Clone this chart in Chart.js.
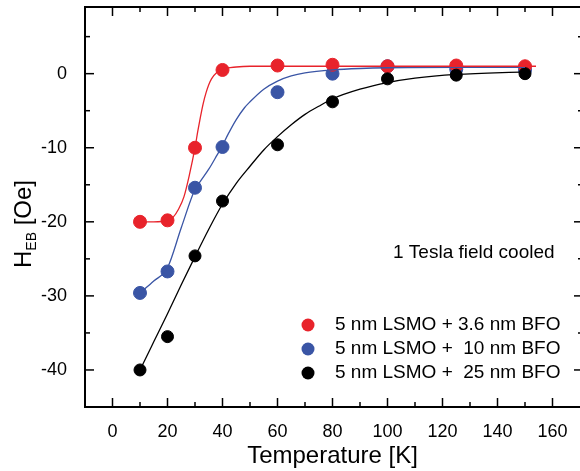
<!DOCTYPE html>
<html>
<head>
<meta charset="utf-8">
<script src="https://cdn.jsdelivr.net/npm/chart.js@4/dist/chart.umd.min.js"></script>
<style>
  html, body { margin: 0; padding: 0; background: #fff; }
  #wrap { width: 580px; height: 471px; }
</style>
</head>
<body>
<div id="wrap"><canvas id="chart" width="580" height="471"></canvas></div>
<script>
// mesures (points)
const temps = [10, 20, 30, 40, 60, 80, 100, 125, 150];
const redVals = [-20.0, -19.8, -10.0, 0.5, 1.1, 1.2, 1.0, 1.1, 1.0];
const blueVals = [-29.6, -26.7, -15.4, -9.9, -2.5, 0.0, 1.0, 0.6, 0.5];
const blackVals = [-40.0, -35.5, -24.6, -17.2, -9.6, -3.8, -0.7, -0.2, 0.0];

// courbes d'ajustement
const fitRedT = [10, 15, 20, 22, 24, 26, 28, 30, 31, 32, 33, 34, 35, 36, 38, 40, 45, 50, 60, 80, 100, 125, 150, 154];
const fitRedVals = [-20.0, -20.0, -19.8, -19.4, -18.3, -16.6, -13.6, -10.0, -7.8, -5.8, -4.0, -2.6, -1.5, -0.7, 0.2, 0.6, 0.9, 1.0, 1.0, 1.0, 1.0, 1.0, 1.0, 1.0];
const fitBlueT = [10, 15, 20, 25, 30, 32, 35, 38, 40, 42, 45, 48, 50, 55, 60, 65, 70, 80, 90, 100, 125, 150];
const fitBlueVals = [-29.6, -28.0, -26.2, -20.8, -15.6, -14.5, -12.9, -11.0, -9.7, -8.2, -6.2, -4.6, -3.8, -2.1, -1.0, -0.3, 0.1, 0.5, 0.7, 0.8, 0.85, 0.85];
const fitBlackT = [10, 15, 20, 25, 30, 35, 40, 45, 50, 55, 60, 65, 70, 75, 80, 90, 100, 110, 125, 150];
const fitBlackVals = [-40.0, -36.2, -32.4, -28.5, -24.7, -21.0, -17.6, -14.8, -12.5, -10.3, -8.5, -6.9, -5.5, -4.4, -3.4, -2.1, -1.2, -0.6, -0.1, 0.25];

// graduations
const xTicks = [0, 20, 40, 60, 80, 100, 120, 140, 160];
const xMinor = [10, 30, 50, 70, 90, 110, 130, 150];
const yTicks = [-40, -30, -20, -10, 0];
const yMinor = [-35, -25, -15, -5, 5];

const labels = ['5 nm LSMO + 3.6 nm BFO', '5 nm LSMO +  10 nm BFO', '5 nm LSMO +  25 nm BFO'];

const RED = '#e8232b';
const BLUE = '#3a55a5';
const BLACK = '#000000';
const FONT = "'Liberation Sans', Arial, sans-serif";

const pts = (xs, ys) => xs.map((x, i) => ({ x: x, y: ys[i] }));

Chart.defaults.font.family = FONT;
Chart.defaults.color = '#000';

// cadre (bord droit hors du canvas comme sur l'original), graduations internes, titre Y, légende
const framePlugin = {
  id: 'frame',
  afterDraw(chart) {
    const ctx = chart.ctx;
    const a = chart.chartArea;
    const right = a.right + 3;
    const sx = chart.scales.x, sy = chart.scales.y;
    ctx.save();
    ctx.strokeStyle = '#000';
    ctx.lineWidth = 2;
    ctx.strokeRect(a.left, a.top, right - a.left, a.bottom - a.top);

    ctx.lineWidth = 1.5;
    const tick = (x1, y1, x2, y2) => { ctx.beginPath(); ctx.moveTo(x1, y1); ctx.lineTo(x2, y2); ctx.stroke(); };
    xTicks.forEach(v => { const p = sx.getPixelForValue(v); tick(p, a.bottom, p, a.bottom - 9); tick(p, a.top, p, a.top + 9); });
    xMinor.forEach(v => { const p = sx.getPixelForValue(v); tick(p, a.bottom, p, a.bottom - 5); tick(p, a.top, p, a.top + 5); });
    yTicks.forEach(v => { const p = sy.getPixelForValue(v); tick(a.left, p, a.left + 9, p); tick(right, p, right - 9, p); });
    yMinor.forEach(v => { const p = sy.getPixelForValue(v); tick(a.left, p, a.left + 5, p); tick(right, p, right - 5, p); });

    // titre Y avec indice
    ctx.fillStyle = '#000';
    ctx.translate(31, 268);
    ctx.rotate(-Math.PI / 2);
    ctx.textAlign = 'left';
    ctx.textBaseline = 'alphabetic';
    ctx.font = '24px ' + FONT;
    ctx.fillText('H', 0, 0);
    let w = ctx.measureText('H').width;
    ctx.font = '14px ' + FONT;
    ctx.fillText('EB', w, 5);
    w += ctx.measureText('EB').width;
    ctx.font = '24px ' + FONT;
    ctx.fillText(' [Oe]', w, 0);
    ctx.restore();

    // annotation
    ctx.save();
    ctx.fillStyle = '#000';
    ctx.font = '19px ' + FONT;
    ctx.textBaseline = 'middle';
    ctx.fillText('1 Tesla field cooled', 393, 253);

    // légende
    const rows = [325, 349, 373];
    chart.data.datasets.filter(d => d.label).forEach((d, i) => {
      ctx.fillStyle = d.backgroundColor;
      ctx.beginPath();
      ctx.arc(308, rows[i], 6.5, 0, Math.PI * 2);
      ctx.fill();
      ctx.fillStyle = '#000';
      ctx.fillText(d.label, 335, rows[i]);
    });
    ctx.restore();
  }
};

new Chart(document.getElementById('chart'), {
  type: 'scatter',
  data: {
    datasets: [
      { label: labels[0], data: pts(temps, redVals), backgroundColor: RED, borderColor: RED, pointRadius: 6.5, order: 4 },
      { label: labels[1], data: pts(temps, blueVals), backgroundColor: BLUE, borderColor: BLUE, pointRadius: 6.5, order: 5 },
      { label: labels[2], data: pts(temps, blackVals), backgroundColor: BLACK, borderColor: BLACK, pointRadius: 6, order: 3 },
      { type: 'line', data: pts(fitRedT, fitRedVals), borderColor: RED, borderWidth: 1.3, pointRadius: 0, cubicInterpolationMode: 'monotone', fill: false, order: 1 },
      { type: 'line', data: pts(fitBlueT, fitBlueVals), borderColor: BLUE, borderWidth: 1.3, pointRadius: 0, cubicInterpolationMode: 'monotone', fill: false, order: 1 },
      { type: 'line', data: pts(fitBlackT, fitBlackVals), borderColor: BLACK, borderWidth: 1.3, pointRadius: 0, cubicInterpolationMode: 'monotone', fill: false, order: 1 }
    ]
  },
  options: {
    responsive: false,
    animation: false,
    layout: { autoPadding: false, padding: { top: 7, right: 0, bottom: 0, left: 0 } },
    plugins: { legend: { display: false }, tooltip: { enabled: false } },
    scales: {
      x: {
        type: 'linear', min: -10, max: 170,
        grid: { display: false }, border: { display: false },
        afterBuildTicks: s => { s.ticks = xTicks.map(v => ({ value: v })); },
        afterFit: s => { s.height = 64; s.paddingLeft = 0; s.paddingRight = 0; },
        ticks: { color: '#000', font: { size: 18 }, padding: 6 },
        title: { display: true, text: 'Temperature [K]', color: '#000', font: { size: 24 }, padding: 0 }
      },
      y: {
        type: 'linear', min: -45, max: 9,
        grid: { display: false }, border: { display: false },
        afterBuildTicks: s => { s.ticks = yTicks.map(v => ({ value: v })); },
        afterFit: s => { s.width = 85; s.paddingTop = 0; s.paddingBottom = 0; },
        ticks: { color: '#000', font: { size: 18 }, padding: 10 }
      }
    }
  },
  plugins: [framePlugin]
});
</script>
</body>
</html>
